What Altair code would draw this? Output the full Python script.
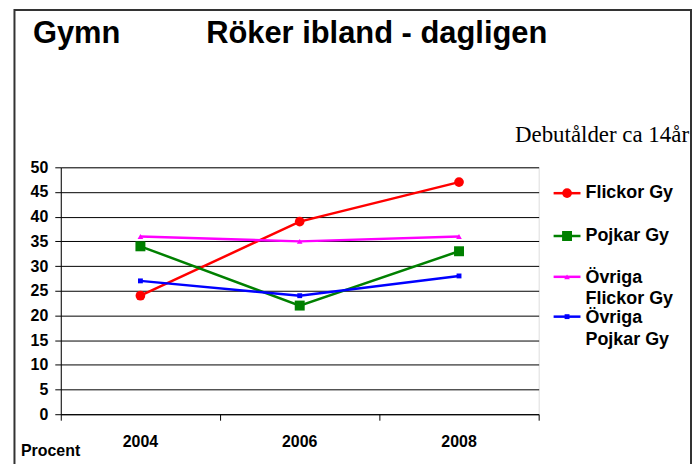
import altair as alt
import pandas as pd

# ---- data ----
years = [2004, 2006, 2008]
series = ["Flickor Gy", "Pojkar Gy", "Övriga Flickor Gy", "Övriga Pojkar Gy"]
flickor = [24, 39, 47]
pojkar = [34, 22, 33]
ovr_flickor = [36, 35, 36]
ovr_pojkar = [27, 24, 28]
legend_lines = [["Flickor Gy"], ["Pojkar Gy"], ["Övriga", "Flickor Gy"], ["Övriga", "Pojkar Gy"]]
y_ticks = list(range(0, 51, 5))
x_ticks = [2003, 2005, 2007, 2009]

colors = ["#FF0000", "#008000", "#FF00FF", "#0000FF"]
shapes = ["circle", "square", "triangle-up", "square"]
sizes = [95, 100, 32, 24]

rows = []
for s, vals in zip(series, [flickor, pojkar, ovr_flickor, ovr_pojkar]):
    for yr, v in zip(years, vals):
        rows.append({"serie": s, "year": yr, "value": v})
df = pd.DataFrame(rows)

SANS = "Liberation Sans"
SERIF = "Liberation Serif"

x_scale = alt.Scale(domain=[2003, 2009], nice=False, zero=False)
y_scale = alt.Scale(domain=[0, 50], nice=False)
x_axis = alt.Axis(values=x_ticks, labels=False, title=None, grid=False,
                  tickSize=6, tickColor="#000", domainColor="#000", domainWidth=1)
y_axis = alt.Axis(values=y_ticks, title=None, grid=True, gridColor="#000", gridWidth=1,
                  tickSize=6, tickColor="#000", domainColor="#000", labelPadding=7,
                  labelOverlap=False, labelFont=SANS, labelFontSize=16,
                  labelFontWeight="bold", labelColor="#000")
x_enc = alt.X("year:Q", scale=x_scale, axis=x_axis)
y_enc = alt.Y("value:Q", scale=y_scale, axis=y_axis)

color = alt.Color("serie:N", scale=alt.Scale(domain=series, range=colors), legend=None)
shape = alt.Shape("serie:N", scale=alt.Scale(domain=series, range=shapes), legend=None)
size = alt.Size("serie:N", scale=alt.Scale(type="ordinal", domain=series, range=sizes),
                legend=None)

base = alt.Chart(df)
lines = base.mark_line(strokeWidth=2.5).encode(x=x_enc, y=y_enc, color=color, detail="serie:N")
points = base.mark_point(filled=True, opacity=1).encode(
    x=x_enc, y=y_enc, color=color, shape=shape, size=size)

year_df = pd.DataFrame({"year": years, "label": [str(y) for y in years]})
year_labels = alt.Chart(year_df).mark_text(font=SANS, fontSize=16, fontWeight="bold",
                                           color="#000", baseline="alphabetic").encode(
    x=x_enc, y=alt.value(281), text="label:N")

one = pd.DataFrame({"a": [0]})


def txt(s, x, y, size, font=SANS, weight="bold", align="left", baseline="alphabetic"):
    return alt.Chart(one).mark_text(font=font, fontSize=size, fontWeight=weight, color="#000",
                                    align=align, baseline=baseline).encode(
        x=alt.value(x), y=alt.value(y), text=alt.value(s))


layers = [lines, points, year_labels]

# frame
layers.append(alt.Chart(one).mark_rect(fillOpacity=0, stroke="#333", strokeWidth=2).encode(
    x=alt.value(-46.5), x2=alt.value(633), y=alt.value(-158), y2=alt.value(320)))

# titles
layers.append(txt("Gymn", -28, -125, 31))
layers.append(txt("Röker ibland - dagligen", 146, -125, 31))
layers.append(txt("Debutålder ca 14år", 631, -25, 23, font=SERIF, weight="normal", align="right"))
layers.append(txt("Procent", -40, 290, 16))

# legend
entry_y = [26, 69, 110, 150]
text_y = [[26], [69], [111, 132], [151, 173]]
for i, s in enumerate(series):
    ly = entry_y[i]
    layers.append(alt.Chart(one).mark_rule(color=colors[i], strokeWidth=2.5).encode(
        x=alt.value(495), x2=alt.value(522), y=alt.value(ly)))
    layers.append(alt.Chart(one).mark_point(filled=True, opacity=1, color=colors[i],
                                            shape=shapes[i], size=sizes[i]).encode(
        x=alt.value(508.5), y=alt.value(ly)))
    for line, ty in zip(legend_lines[i], text_y[i]):
        layers.append(txt(line, 527, ty, 18, baseline="middle"))

chart = alt.layer(*layers).properties(
    width=480, height=248,
    autosize=alt.AutoSizeParams(type="none"),
    padding={"left": 53, "top": 159, "right": 154, "bottom": 49},
).configure_view(stroke="#808080", strokeWidth=1).configure(background="white")

chart.save("out.html", embed_options={"renderer": "svg", "actions": False})
